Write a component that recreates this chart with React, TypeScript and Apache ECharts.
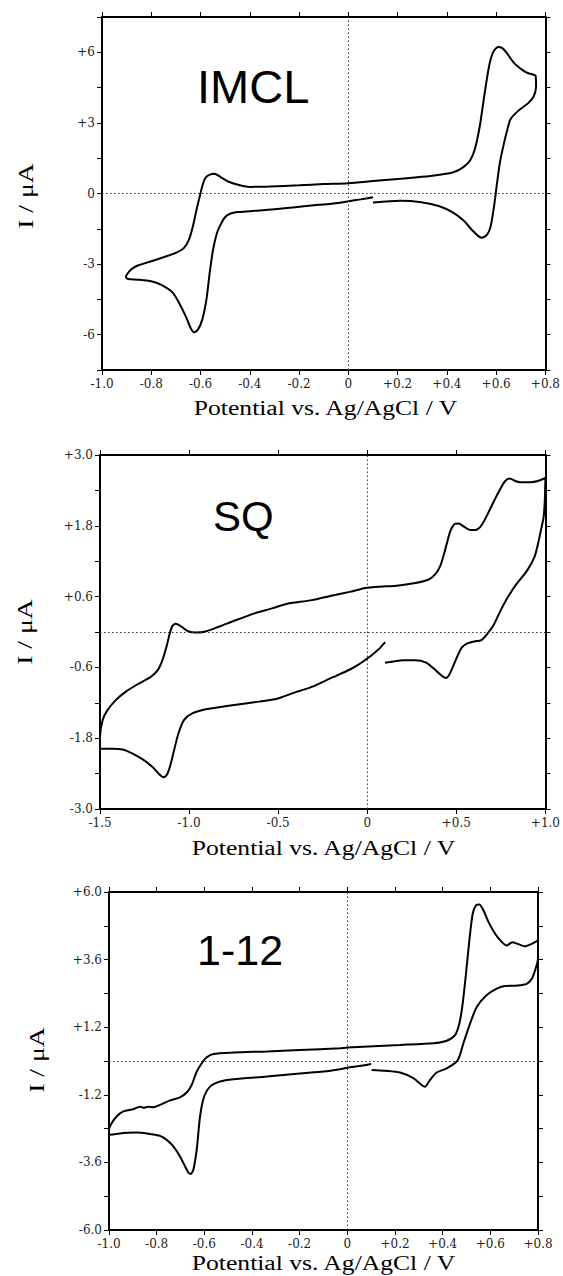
import React, { useEffect, useRef } from "react";
import * as echarts from "echarts";

// ---------- data: cyclic voltammograms [potential (V), current (µA)] ----------
const imclTrace = [
  [0.1, -0.16], [0.05, -0.25], [0.0, -0.33], [-0.06, -0.42], [-0.12, -0.48], [-0.2, -0.56],
  [-0.3, -0.67], [-0.4, -0.75], [-0.45, -0.79], [-0.48, -0.86], [-0.5, -1.0], [-0.515, -1.25],
  [-0.533, -1.67], [-0.549, -2.38], [-0.563, -3.38], [-0.576, -4.5], [-0.593, -5.36],
  [-0.611, -5.79], [-0.626, -5.9], [-0.64, -5.72], [-0.66, -5.22], [-0.687, -4.65],
  [-0.714, -4.2], [-0.761, -3.87], [-0.8, -3.73], [-0.855, -3.66], [-0.895, -3.63],
  [-0.903, -3.55], [-0.898, -3.43], [-0.882, -3.23], [-0.855, -3.06], [-0.8, -2.88],
  [-0.748, -2.7], [-0.7, -2.52], [-0.667, -2.31], [-0.647, -1.96], [-0.631, -1.39],
  [-0.616, -0.68], [-0.603, -0.11], [-0.593, 0.31], [-0.58, 0.67], [-0.56, 0.81],
  [-0.544, 0.84], [-0.52, 0.71], [-0.486, 0.5], [-0.44, 0.35], [-0.4, 0.28], [-0.32, 0.3],
  [-0.2, 0.35], [-0.1, 0.4], [0.0, 0.44], [0.1, 0.53], [0.2, 0.62], [0.333, 0.74],
  [0.427, 0.9], [0.467, 1.12], [0.494, 1.4], [0.514, 1.9], [0.534, 2.89], [0.554, 4.31],
  [0.572, 5.45], [0.588, 6.01], [0.608, 6.23], [0.625, 6.18], [0.641, 6.0], [0.673, 5.54],
  [0.709, 5.23], [0.73, 5.11], [0.76, 5.0], [0.762, 4.55], [0.752, 4.12], [0.73, 3.84],
  [0.687, 3.49], [0.658, 3.15], [0.645, 2.7], [0.632, 2.15], [0.615, 1.3], [0.603, 0.4],
  [0.592, -0.5], [0.578, -1.38], [0.564, -1.74], [0.542, -1.88], [0.528, -1.81],
  [0.5, -1.53], [0.47, -1.17], [0.427, -0.82], [0.37, -0.54], [0.296, -0.37],
  [0.21, -0.31], [0.1, -0.38],
];

const sqTrace = [
  [0.1, -0.17], [0.065, -0.29], [0.03, -0.38], [0.0, -0.45], [-0.047, -0.55], [-0.1, -0.64],
  [-0.196, -0.77], [-0.311, -0.93], [-0.382, -1.0], [-0.422, -1.04], [-0.506, -1.13],
  [-0.609, -1.18], [-0.758, -1.24], [-0.907, -1.31], [-0.982, -1.38], [-1.028, -1.49],
  [-1.06, -1.72], [-1.084, -2.0], [-1.108, -2.29], [-1.127, -2.43], [-1.146, -2.46],
  [-1.168, -2.41], [-1.205, -2.29], [-1.26, -2.16], [-1.317, -2.06], [-1.373, -1.99],
  [-1.43, -1.98], [-1.5, -1.98], [-1.5, -1.78], [-1.485, -1.49], [-1.457, -1.32],
  [-1.41, -1.15], [-1.355, -1.01], [-1.28, -0.87], [-1.215, -0.76], [-1.177, -0.65],
  [-1.15, -0.48], [-1.127, -0.25], [-1.108, -0.02], [-1.094, 0.1], [-1.075, 0.14],
  [-1.047, 0.1], [-1.01, 0.02], [-0.963, -0.01], [-0.907, 0.01], [-0.833, 0.09],
  [-0.739, 0.2], [-0.628, 0.32], [-0.534, 0.4], [-0.45, 0.48], [-0.404, 0.5],
  [-0.311, 0.54], [-0.196, 0.62], [-0.1, 0.68], [0.0, 0.75], [0.177, 0.79], [0.27, 0.83],
  [0.345, 0.89], [0.382, 0.98], [0.41, 1.12], [0.438, 1.4], [0.466, 1.71], [0.49, 1.83],
  [0.513, 1.84], [0.541, 1.79], [0.578, 1.73], [0.606, 1.73], [0.639, 1.8], [0.671, 1.97],
  [0.708, 2.2], [0.746, 2.42], [0.774, 2.56], [0.8, 2.6], [0.83, 2.56], [0.857, 2.54],
  [0.917, 2.54], [0.958, 2.56], [1.0, 2.61], [0.996, 2.2], [0.99, 1.95], [0.978, 1.77],
  [0.958, 1.49], [0.938, 1.27], [0.897, 1.04], [0.837, 0.81], [0.787, 0.58], [0.746, 0.35],
  [0.706, 0.1], [0.666, -0.06], [0.64, -0.14], [0.6, -0.16], [0.565, -0.19], [0.531, -0.26],
  [0.503, -0.43], [0.475, -0.63], [0.455, -0.75], [0.44, -0.78], [0.414, -0.73],
  [0.373, -0.62], [0.33, -0.52], [0.27, -0.48], [0.2, -0.48], [0.15, -0.5], [0.1, -0.52],
];

const c112Trace = [
  [0.1, -0.11], [0.05, -0.18], [0.0, -0.24], [-0.031, -0.29], [-0.1, -0.37], [-0.199, -0.44],
  [-0.338, -0.55], [-0.478, -0.65], [-0.534, -0.73], [-0.576, -0.91], [-0.601, -1.26],
  [-0.618, -1.97], [-0.632, -3.15], [-0.646, -3.86], [-0.657, -4.01], [-0.667, -3.96],
  [-0.681, -3.74], [-0.702, -3.39], [-0.73, -3.03], [-0.758, -2.8], [-0.786, -2.66],
  [-0.828, -2.59], [-0.884, -2.54], [-0.92, -2.55], [-0.954, -2.57], [-1.0, -2.62],
  [-1.0, -2.44], [-0.989, -2.21], [-0.968, -1.97], [-0.94, -1.79], [-0.898, -1.71],
  [-0.87, -1.62], [-0.856, -1.66], [-0.835, -1.62], [-0.814, -1.64], [-0.786, -1.56],
  [-0.744, -1.4], [-0.702, -1.29], [-0.671, -1.09], [-0.653, -0.85], [-0.632, -0.38],
  [-0.611, -0.08], [-0.59, 0.13], [-0.562, 0.25], [-0.478, 0.3], [-0.338, 0.34],
  [-0.199, 0.39], [-0.031, 0.45], [0.0, 0.48], [0.221, 0.57], [0.361, 0.63], [0.417, 0.72],
  [0.452, 0.92], [0.47, 1.33], [0.484, 2.04], [0.498, 3.11], [0.512, 4.29], [0.526, 5.23],
  [0.54, 5.53], [0.554, 5.56], [0.571, 5.35], [0.592, 4.94], [0.62, 4.52], [0.648, 4.23],
  [0.669, 4.1], [0.692, 4.22], [0.714, 4.16], [0.744, 4.07], [0.774, 4.16], [0.8, 4.28],
  [0.8, 3.63], [0.79, 3.28], [0.774, 2.92], [0.752, 2.74], [0.714, 2.68], [0.66, 2.66],
  [0.627, 2.57], [0.585, 2.34], [0.543, 1.92], [0.515, 1.33], [0.487, 0.63], [0.472, 0.2],
  [0.459, -0.02], [0.417, -0.26], [0.375, -0.41], [0.347, -0.67], [0.326, -0.91],
  [0.312, -0.85], [0.277, -0.61], [0.221, -0.41], [0.16, -0.35], [0.102, -0.32],
];

// ---------- tick labels ----------
const imclPotentialTicks = [-1.0, -0.8, -0.6, -0.4, -0.2, 0, 0.2, 0.4, 0.6, 0.8];
const imclPotentialLabels = ["-1.0", "-0.8", "-0.6", "-0.4", "-0.2", "0", "+0.2", "+0.4", "+0.6", "+0.8"];
const imclCurrentTicks = [-6, -3, 0, 3, 6];
const imclCurrentLabels = ["-6", "-3", "0", "+3", "+6"];

const sqPotentialTicks = [-1.5, -1.0, -0.5, 0, 0.5, 1.0];
const sqPotentialLabels = ["-1.5", "-1.0", "-0.5", "0", "+0.5", "+1.0"];
const sqCurrentTicks = [-3.0, -1.8, -0.6, 0.6, 1.8, 3.0];
const sqCurrentLabels = ["-3.0", "-1.8", "-0.6", "+0.6", "+1.8", "+3.0"];

const c112PotentialTicks = [-1.0, -0.8, -0.6, -0.4, -0.2, 0, 0.2, 0.4, 0.6, 0.8];
const c112PotentialLabels = ["-1.0", "-0.8", "-0.6", "-0.4", "-0.2", "0", "+0.2", "+0.4", "+0.6", "+0.8"];
const c112CurrentTicks = [-6.0, -3.6, -1.2, 1.2, 3.6, 6.0];
const c112CurrentLabels = ["-6.0", "-3.6", "-1.2", "+1.2", "+3.6", "+6.0"];

const panelNames = ["IMCL", "SQ", "1-12"];
const xTitle = "Potential vs. Ag/AgCl / V";
const yTitle = "I / \u03bcA";

// ---------- layout ----------
const panels = [
  {
    name: panelNames[0], trace: imclTrace,
    grid: { left: 102, top: 17, width: 447, height: 353 },
    x: { min: -1.0, max: 0.8, interval: 0.2, ticks: imclPotentialTicks, labels: imclPotentialLabels },
    y: { min: -7.5, max: 7.5, interval: 1.5, ticks: imclCurrentTicks, labels: imclCurrentLabels },
    label: { x: 197, y: 86, size: 47 },
    xTitleY: 408, yTitleX: 26, yTitleY: 196,
  },
  {
    name: panelNames[1], trace: sqTrace,
    grid: { left: 100, top: 455, width: 447, height: 354 },
    x: { min: -1.5, max: 1.0, interval: 0.5, ticks: sqPotentialTicks, labels: sqPotentialLabels },
    y: { min: -3.0, max: 3.0, interval: 0.6, ticks: sqCurrentTicks, labels: sqCurrentLabels },
    label: { x: 213, y: 516, size: 42 },
    xTitleY: 848, yTitleX: 25, yTitleY: 632,
  },
  {
    name: panelNames[2], trace: c112Trace,
    grid: { left: 109, top: 892, width: 429, height: 338 },
    x: { min: -1.0, max: 0.8, interval: 0.2, ticks: c112PotentialTicks, labels: c112PotentialLabels },
    y: { min: -6.0, max: 6.0, interval: 1.2, ticks: c112CurrentTicks, labels: c112CurrentLabels },
    label: { x: 197, y: 950, size: 43 },
    xTitleY: 1263, yTitleX: 37, yTitleY: 1060,
  },
];

const labelFont = "DejaVu Serif";
const titleFont = "Liberation Serif";

function makeFormatter(ticks: number[], labels: string[]) {
  return (v: number) => {
    const i = ticks.findIndex((t) => Math.abs(t - v) < 1e-6);
    return i < 0 ? "" : labels[i];
  };
}

function axisBase(min: number, max: number, interval: number) {
  return {
    type: "value",
    min,
    max,
    interval,
    axisLine: { show: true, onZero: false, lineStyle: { color: "#000", width: 2 } },
    axisTick: { show: true, inside: false, length: 5, lineStyle: { color: "#000", width: 1 } },
    splitLine: { show: false },
  };
}

export default function App() {
  const ref = useRef<HTMLDivElement>(null);

  useEffect(() => {
    if (!ref.current) return;
    const chart = echarts.init(ref.current, undefined, { renderer: "svg" });

    const grids: any[] = [];
    const xAxes: any[] = [];
    const yAxes: any[] = [];
    const series: any[] = [];
    const graphics: any[] = [];

    panels.forEach((p, i) => {
      grids.push({ ...p.grid, containLabel: false });
      xAxes.push({
        ...axisBase(p.x.min, p.x.max, p.x.interval),
        gridIndex: i,
        position: "bottom",
        axisLabel: {
          show: true,
          margin: 8,
          formatter: makeFormatter(p.x.ticks, p.x.labels),
          fontFamily: labelFont,
          fontSize: 12,
          color: "#222",
          showMinLabel: true,
          showMaxLabel: true,
        },
      });
      xAxes.push({
        ...axisBase(p.x.min, p.x.max, p.x.interval),
        gridIndex: i,
        position: "top",
        axisLabel: { show: false },
      });
      yAxes.push({
        ...axisBase(p.y.min, p.y.max, p.y.interval),
        gridIndex: i,
        position: "left",
        axisLabel: {
          show: true,
          margin: 7,
          formatter: makeFormatter(p.y.ticks, p.y.labels),
          fontFamily: labelFont,
          fontSize: 12,
          color: "#222",
          showMinLabel: true,
          showMaxLabel: true,
        },
      });
      yAxes.push({
        ...axisBase(p.y.min, p.y.max, p.y.interval),
        gridIndex: i,
        position: "right",
        axisLabel: { show: false },
      });

      series.push({
        type: "line",
        name: p.name,
        xAxisIndex: 2 * i,
        yAxisIndex: 2 * i,
        data: p.trace,
        showSymbol: false,
        symbol: "none",
        smooth: 0.25,
        lineStyle: { color: "#000", width: 2 },
        z: 3,
        markLine: {
          silent: true,
          symbol: ["none", "none"],
          label: { show: false },
          lineStyle: { color: "#333", width: 1, type: [1.5, 2.5] },
          data: [{ xAxis: 0 }, { yAxis: 0 }],
        },
      });

      graphics.push({
        type: "text",
        x: p.label.x,
        y: p.label.y,
        style: {
          text: p.name,
          fontFamily: "Liberation Sans",
          fontSize: p.label.size,
          fill: "#000",
          align: "left",
          verticalAlign: "middle",
        },
      });
      graphics.push({
        type: "text",
        x: p.grid.left + p.grid.width / 2,
        y: p.xTitleY,
        scaleX: 1.28,
        style: {
          text: xTitle,
          fontFamily: titleFont,
          fontSize: 20,
          fill: "#000",
          align: "center",
          verticalAlign: "middle",
        },
      });
      graphics.push({
        type: "text",
        x: p.yTitleX,
        y: p.yTitleY,
        rotation: Math.PI / 2,
        scaleX: 1.32,
        style: {
          text: yTitle,
          fontFamily: titleFont,
          fontSize: 21,
          fill: "#000",
          align: "center",
          verticalAlign: "middle",
        },
      });
    });

    chart.setOption({
      animation: false,
      backgroundColor: "#fff",
      grid: grids,
      xAxis: xAxes,
      yAxis: yAxes,
      series,
      graphic: graphics,
    });

    return () => chart.dispose();
  }, []);

  return (
    <div
      ref={ref}
      style={{ position: "absolute", left: 0, top: 0, width: 563, height: 1276 }}
    />
  );
}
